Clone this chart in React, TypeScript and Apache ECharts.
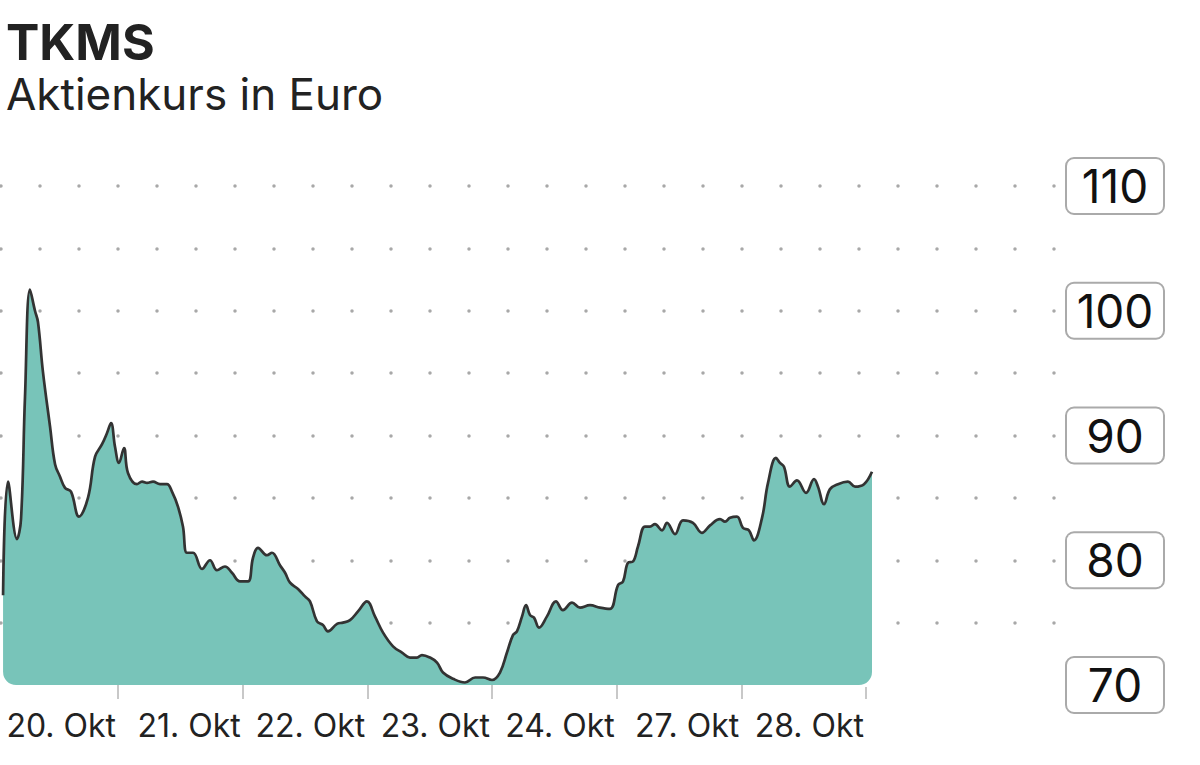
import React, { useEffect, useRef } from "react";
import * as echarts from "echarts";

// Trading-session position (1 = end of 20. Okt session, 2 = end of 21. Okt ...)
const times = [
  0.078, 0.118, 0.19, 0.222, 0.254, 0.294, 0.334, 0.358, 0.398, 0.455, 0.495, 0.535, 0.575, 0.623, 0.687,
  0.759, 0.816, 0.872, 0.912, 0.944, 0.976, 1.008, 1.048, 1.08, 1.152, 1.193, 1.233, 1.281, 1.337, 1.393,
  1.433, 1.481, 1.521, 1.553, 1.602, 1.674, 1.738, 1.794, 1.858, 1.914, 1.979, 2.043, 2.083, 2.123, 2.195,
  2.235, 2.299, 2.34, 2.38, 2.444, 2.5, 2.54, 2.596, 2.644, 2.684, 2.757, 2.805, 2.861, 2.925, 2.997,
  3.061, 3.126, 3.206, 3.278, 3.342, 3.398, 3.438, 3.503, 3.559, 3.607, 3.687, 3.783, 3.864, 3.928, 4.0,
  4.064, 4.12, 4.168, 4.2, 4.241, 4.273, 4.305, 4.337, 4.377, 4.441, 4.513, 4.569, 4.642, 4.706, 4.786,
  4.866, 4.946, 5.011, 5.051, 5.091, 5.131, 5.171, 5.227, 5.267, 5.307, 5.364, 5.404, 5.468, 5.532, 5.612,
  5.684, 5.749, 5.829, 5.869, 5.909, 5.965, 6.013, 6.061, 6.101, 6.166, 6.214, 6.278, 6.31, 6.342, 6.39,
  6.446, 6.519, 6.583, 6.615, 6.663, 6.711, 6.775, 6.855, 6.912, 6.984, 7.048,
];

const prices = [
  77.2, 86.3, 81.7, 83.3, 93.1, 101.7, 100.0, 99.1, 95.1, 90.7, 87.7, 86.7, 85.8, 85.5, 83.5,
  85.0, 88.3, 89.3, 90.2, 91.0, 89.1, 87.8, 89.0, 87.0, 86.1, 86.3, 86.2, 86.3, 86.1, 86.1,
  85.5, 84.3, 82.7, 80.6, 80.6, 79.3, 80.0, 79.2, 79.5, 79.0, 78.3, 78.3, 80.2, 81.0, 80.4,
  80.6, 79.6, 79.0, 78.2, 77.7, 77.1, 76.7, 75.1, 74.8, 74.3, 74.9, 75.0, 75.2, 75.9, 76.7,
  75.5, 74.2, 73.1, 72.6, 72.2, 72.2, 72.4, 72.2, 71.8, 71.0, 70.5, 70.2, 70.6, 70.6, 70.4,
  71.0, 72.6, 74.0, 74.3, 75.5, 76.4, 75.6, 75.4, 74.6, 75.5, 76.7, 76.0, 76.6, 76.2, 76.4,
  76.2, 76.1, 78.0, 78.3, 79.8, 79.9, 81.1, 82.7, 82.7, 82.9, 82.4, 83.0, 82.1, 83.2, 83.0,
  82.2, 82.8, 83.3, 83.1, 83.4, 83.5, 82.6, 82.4, 81.6, 83.4, 86.2, 88.2, 87.8, 87.5, 85.9,
  86.4, 85.4, 86.5, 85.9, 84.5, 85.7, 86.1, 86.3, 85.9, 86.1, 87.1,
];

const dayLabels = ["20. Okt", "21. Okt", "22. Okt", "23. Okt", "24. Okt", "27. Okt", "28. Okt"];
const dayEnds = [1, 2, 3, 4, 5, 6, 7];
const yLabelValues = [70, 80, 90, 100, 110];

const FONT = "Inter, 'Noto Sans', sans-serif";
const R = 13;

echarts.graphic.registerShape(
  "cornerBL",
  echarts.graphic.extendPath(`M-2 2 L-2 ${-R} L0 ${-R} A${R} ${R} 0 0 0 ${R} 0 L${R} 2 Z`, {})
);
echarts.graphic.registerShape(
  "cornerBR",
  echarts.graphic.extendPath(`M2 2 L2 ${-R} L0 ${-R} A${R} ${R} 0 0 1 ${-R} 0 L${-R} 2 Z`, {})
);

export default function App() {
  const ref = useRef<HTMLDivElement>(null);
  useEffect(() => {
    if (!ref.current) return;
    const chart = echarts.init(ref.current, null, { renderer: "svg" });
    const data = times.map((t, i) => [t, prices[i]]);
    chart.setOption({
      animation: false,
      backgroundColor: "#ffffff",
      title: [
        {
          text: "TKMS",
          left: 6,
          top: 17,
          padding: 0,
          textStyle: { fontFamily: FONT, fontSize: 50, fontWeight: 700, color: "#222" },
        },
        {
          text: "Aktienkurs in Euro",
          left: 6,
          top: 72,
          padding: 0,
          textStyle: { fontFamily: FONT, fontSize: 44, fontWeight: 400, color: "#222" },
        },
      ],
      grid: { left: 1, right: 145, top: 186, bottom: 80, containLabel: false, outerBoundsMode: "none" },
      xAxis: {
        type: "value",
        min: 0.0615,
        max: 8.516,
        axisLine: { show: false },
        splitLine: { show: false },
        axisTick: {
          show: true,
          customValues: dayEnds,
          length: 14,
          lineStyle: { color: "#c8c8c8", width: 2 },
        },
        axisLabel: {
          customValues: dayEnds,
          formatter: (v: number) => dayLabels[Math.round(v) - 1] || "",
          align: "right",
          padding: [0, 2, 0, 0],
          margin: 24,
          fontFamily: FONT,
          fontSize: 32,
          color: "#222",
        },
      },
      yAxis: {
        type: "value",
        position: "right",
        min: 70,
        max: 110,
        interval: 5,
        axisLine: { show: false },
        axisTick: { show: false },
        splitLine: {
          show: true,
          showMinLine: false,
          lineStyle: { color: "#a8a8a8", width: 3.5, type: [0, 39], cap: "round" },
        },
        axisLabel: {
          customValues: yLabelValues,
          margin: 12,
          formatter: (v: number) => `{v|${v}}`,
          backgroundColor: "#ffffff",
          borderColor: "#aaaaaa",
          borderWidth: 2,
          borderRadius: 7,
          padding: [5, 0, 5, 0],
          rich: {
            v: {
              width: 96,
              align: "center",
              fontFamily: FONT,
              fontSize: 46,
              lineHeight: 44,
              color: "#111",
            },
          },
        },
      },
      series: [
        {
          type: "line",
          data,
          smooth: 0.4,
          symbol: "none",
          lineStyle: { color: "#333333", width: 2.7 },
          areaStyle: { color: "#78c4b9", opacity: 1, origin: "start" },
        },
      ],
    });
    const bl = chart.convertToPixel({ gridIndex: 0 }, [times[0], 70]) as number[];
    const br = chart.convertToPixel({ gridIndex: 0 }, [times[times.length - 1], 70]) as number[];
    chart.setOption({
      graphic: [
        { type: "cornerBL", x: bl[0], y: bl[1], z: 100, style: { fill: "#ffffff" } },
        { type: "cornerBR", x: br[0], y: br[1], z: 100, style: { fill: "#ffffff" } },
      ],
    });
    return () => chart.dispose();
  }, []);
  return (
    <div
      ref={ref}
      style={{ position: "fixed", left: 0, top: 0, width: 1200, height: 765 }}
    />
  );
}
